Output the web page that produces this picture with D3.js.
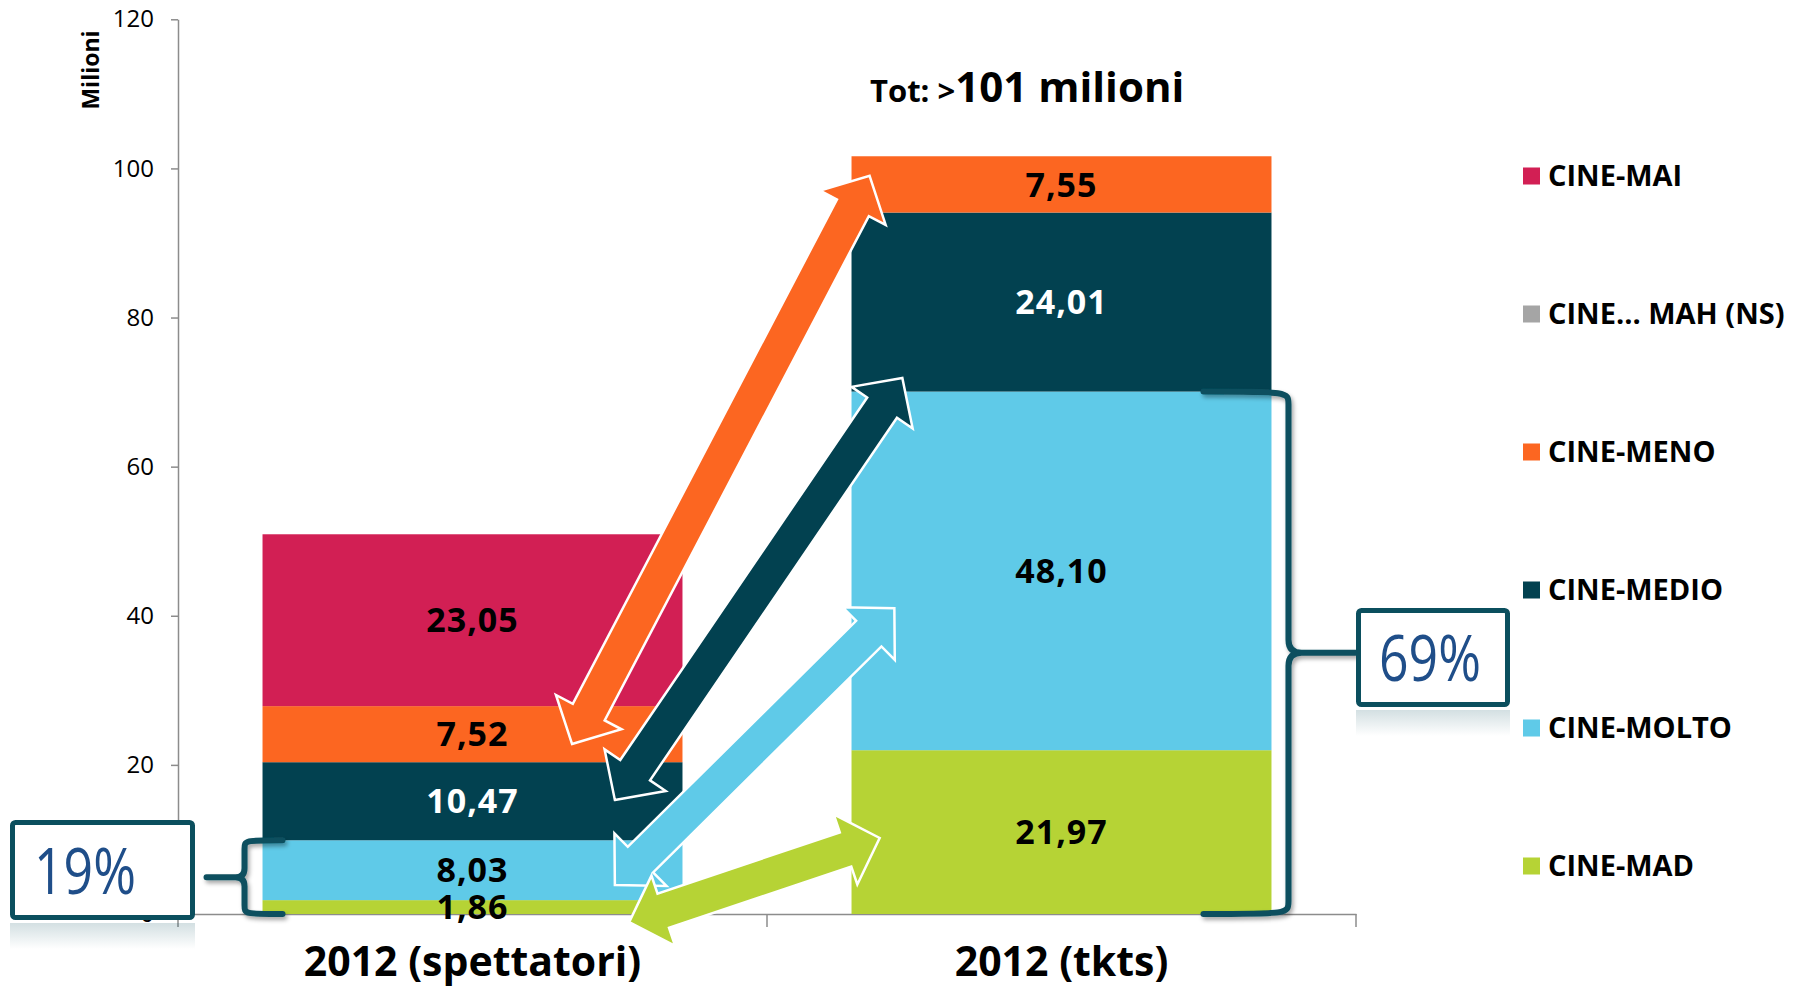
<!DOCTYPE html>
<html>
<head>
<meta charset="utf-8">
<script src="https://cdn.jsdelivr.net/npm/d3@7"></script>
<style>
  body { margin: 0; background: #fff; }
  svg { display: block; font-family: 'Open Sans', sans-serif; }
</style>
</head>
<body>
<script>
// data (bottom to top of each stack)
const categories = ['2012 (spettatori)', '2012 (tkts)'];
const seriesNames = ['CINE-MAD', 'CINE-MOLTO', 'CINE-MEDIO', 'CINE-MENO', 'CINE... MAH (NS)', 'CINE-MAI'];
const seriesColors = ['#b6d335', '#5fcae8', '#024150', '#fc6621', '#a5a5a5', '#d21f54'];
const labelColors = ['#000', '#000', '#fff', '#000', '#000', '#000'];
const spettatori = [1.86, 8.03, 10.47, 7.52, 0, 23.05];
const tkts = [21.97, 48.10, 24.01, 7.55, 0, 0];
const yTicks = [0, 20, 40, 60, 80, 100, 120];
const titlePrefix = 'Tot: >';
const titleMain = '101 milioni';
const yTitle = 'Milioni';

// arrows between the two bars: series, [fraction across bar 1, value], [fraction across bar 2, value]
const arrowSeries = [3, 2, 1, 0];
const arrowFrom = [[0.737, 22.8], [0.839, 15.3], [0.839, 3.9], [0.873, -1.1]];
const arrowTo = [[0.043, 99.0], [0.121, 71.9], [0.102, 41.0], [0.067, 10.2]];
// series summed under the brackets
const bracketSeries = [0, 1];

const W = 1805, H = 990;
const values = [spettatori, tkts];

const x = d3.scaleBand()
  .domain(categories)
  .range([178, 1356])
  .paddingInner(0.287)
  .paddingOuter(0.1435);

const y = d3.scaleLinear()
  .domain([0, 120])
  .range([914, 19.3]);

const it = d3.formatLocale({ decimal: ',', thousands: '.', grouping: [3], currency: ['', '€'] });
const fmt = it.format('.2f');
const pct = it.format('.0%');

const rows = categories.map((c, i) => {
  const r = { cat: c };
  seriesNames.forEach((s, j) => { r[s] = values[i][j]; });
  return r;
});
const stacked = d3.stack().keys(seriesNames)(rows);

const svg = d3.select('body').append('svg')
  .attr('width', W)
  .attr('height', H);

const defs = svg.append('defs');
const shadow = defs.append('filter').attr('id', 'shadow')
  .attr('x', '-50%').attr('y', '-20%').attr('width', '200%').attr('height', '140%');
shadow.append('feDropShadow')
  .attr('dx', 2).attr('dy', 3).attr('stdDeviation', 2)
  .attr('flood-color', '#000').attr('flood-opacity', 0.35);
const refl = defs.append('linearGradient').attr('id', 'refl')
  .attr('x1', 0).attr('y1', 0).attr('x2', 0).attr('y2', 1);
refl.append('stop').attr('offset', 0).attr('stop-color', '#0b4f5e').attr('stop-opacity', 0.18);
refl.append('stop').attr('offset', 1).attr('stop-color', '#0b4f5e').attr('stop-opacity', 0);

// y axis
svg.append('g')
  .attr('class', 'y axis')
  .attr('transform', `translate(${x.range()[0]},0)`)
  .call(d3.axisLeft(y).tickValues(yTicks).tickSize(7).tickSizeOuter(0).tickPadding(17).tickFormat(d3.format('d')))
  .call(g => g.selectAll('path, line').attr('stroke', '#8c8c8c').attr('stroke-width', 1.5))
  .call(g => g.selectAll('text').attr('font-size', 24).attr('fill', '#000').attr('font-family', 'Open Sans'));

svg.append('text')
  .attr('transform', 'translate(99,70) rotate(-90)')
  .attr('text-anchor', 'middle')
  .attr('font-size', 23)
  .attr('font-weight', 'bold')
  .text(yTitle);

// x axis
svg.append('g')
  .attr('class', 'x axis')
  .attr('transform', `translate(0,${y(0)})`)
  .call(d3.axisBottom(x).tickSize(0).tickSizeOuter(0).tickPadding(33))
  .call(g => g.select('.domain').attr('stroke', '#8c8c8c').attr('stroke-width', 1.5))
  .call(g => g.selectAll('text').attr('font-size', 41).attr('font-weight', 'bold').attr('fill', '#000').attr('font-family', 'Open Sans'));

svg.append('g')
  .selectAll('line')
  .data(d3.range(categories.length + 1))
  .join('line')
  .attr('x1', i => x.range()[0] + i * x.step())
  .attr('x2', i => x.range()[0] + i * x.step())
  .attr('y1', y(0))
  .attr('y2', y(0) + 13)
  .attr('stroke', '#8c8c8c')
  .attr('stroke-width', 1.5);

// bars
const layer = svg.append('g').selectAll('g')
  .data(stacked)
  .join('g')
  .attr('fill', (d, i) => seriesColors[i]);

layer.selectAll('rect')
  .data(d => d)
  .join('rect')
  .attr('x', d => x(d.data.cat))
  .attr('y', d => y(d[1]))
  .attr('width', x.bandwidth())
  .attr('height', d => y(d[0]) - y(d[1]));

// segment labels
stacked.forEach((s, i) => {
  svg.append('g').selectAll('text')
    .data(s.filter(d => d[1] - d[0] > 0))
    .join('text')
    .attr('x', d => x(d.data.cat) + x.bandwidth() / 2)
    .attr('y', d => y((d[0] + d[1]) / 2))
    .attr('dy', '0.36em')
    .attr('text-anchor', 'middle')
    .attr('font-size', 34)
    .attr('font-weight', 'bold')
    .attr('letter-spacing', 1)
    .attr('fill', labelColors[i])
    .text(d => fmt(d[1] - d[0]));
});

// double-headed block arrows
function arrowPath(a, b, hl, hw, sw) {
  const dx = b[0] - a[0], dy = b[1] - a[1], L = Math.hypot(dx, dy);
  const ux = dx / L, uy = dy / L, nx = -uy, ny = ux;
  const P = (t, s) => [a[0] + ux * t + nx * s, a[1] + uy * t + ny * s];
  const pts = [P(0, 0), P(hl, hw), P(hl, sw), P(L - hl, sw), P(L - hl, hw), P(L, 0),
    P(L - hl, -hw), P(L - hl, -sw), P(hl, -sw), P(hl, -hw)];
  return d3.line()(pts) + 'Z';
}

const pt = (ci, p) => [x(categories[ci]) + p[0] * x.bandwidth(), y(p[1])];

svg.append('g').selectAll('path')
  .data(arrowSeries)
  .join('path')
  .attr('d', (s, i) => arrowPath(pt(0, arrowFrom[i]), pt(1, arrowTo[i]), 36, 37, 18))
  .attr('fill', s => seriesColors[s])
  .attr('stroke', '#fff')
  .attr('stroke-width', 2.5)
  .attr('stroke-linejoin', 'miter');

// brackets and share boxes
function bracePath(xe, xv, xt, yTop, yBot, r) {
  const yMid = (yTop + yBot) / 2;
  const s = Math.sign(xt - xv);
  return `M${xe},${yTop} C${xv},${yTop} ${xv},${yTop} ${xv},${yTop + r}` +
    ` L${xv},${yMid - r} Q${xv},${yMid} ${xv + s * r},${yMid} L${xt},${yMid}` +
    ` M${xv + s * r},${yMid} Q${xv},${yMid} ${xv},${yMid + r}` +
    ` L${xv},${yBot - r} C${xv},${yBot} ${xv},${yBot} ${xe},${yBot}`;
}

const share = values.map(v => d3.sum(bracketSeries, j => v[j]));
const totals = values.map(v => d3.sum(v));

const b0 = x(categories[0]);
const b1 = x(categories[1]) + x.bandwidth();

const braces = [
  { d: bracePath(b0 + 20, b0 - 18, b0 - 56, y(share[0]), y(0), 9), box: [10, 820, 185, 100], tx: 85, text: pct(share[0] / totals[0]) },
  { d: bracePath(b1 - 68, b1 + 17, b1 + 84, y(share[1]), y(0), 13), box: [1356, 608, 154, 99], tx: 1430, text: pct(share[1] / totals[1]) }
];

braces.forEach(b => {
  svg.append('path')
    .attr('d', b.d)
    .attr('fill', 'none')
    .attr('stroke', '#0b4f5e')
    .attr('stroke-width', 6)
    .attr('stroke-linecap', 'round')
    .attr('filter', 'url(#shadow)');

  const [bx, by, bw, bh] = b.box;
  svg.append('rect')
    .attr('x', bx).attr('y', by + bh + 3)
    .attr('width', bw).attr('height', 26)
    .attr('fill', 'url(#refl)');
  svg.append('rect')
    .attr('x', bx + 2.5).attr('y', by + 2.5)
    .attr('width', bw - 5).attr('height', bh - 5)
    .attr('rx', 3)
    .attr('fill', '#fff')
    .attr('stroke', '#0b4f5e')
    .attr('stroke-width', 5);
  svg.append('text')
    .attr('x', b.tx)
    .attr('y', by + bh * 0.74)
    .attr('text-anchor', 'middle')
    .attr('font-size', 64)
    .attr('textLength', 102)
    .attr('lengthAdjust', 'spacingAndGlyphs')
    .attr('fill', '#1f4e89')
    .text(b.text);
});

// title
const title = svg.append('text')
  .attr('x', 870)
  .attr('y', 102)
  .attr('font-weight', 'bold')
  .attr('fill', '#000');
title.append('tspan').attr('font-size', 31).text(titlePrefix);
title.append('tspan').attr('font-size', 42).text(titleMain);

// legend (top to bottom)
const legendKeys = d3.range(seriesNames.length).reverse();
const legend = svg.append('g').selectAll('g')
  .data(legendKeys)
  .join('g')
  .attr('transform', (d, i) => `translate(1523,${176 + i * 138})`);

legend.append('rect')
  .attr('x', 0).attr('y', -8.5)
  .attr('width', 17).attr('height', 17)
  .attr('fill', d => seriesColors[d]);

legend.append('text')
  .attr('x', 25)
  .attr('dy', '0.36em')
  .attr('font-size', 29)
  .attr('font-weight', 'bold')
  .text(d => seriesNames[d]);
</script>
</body>
</html>
